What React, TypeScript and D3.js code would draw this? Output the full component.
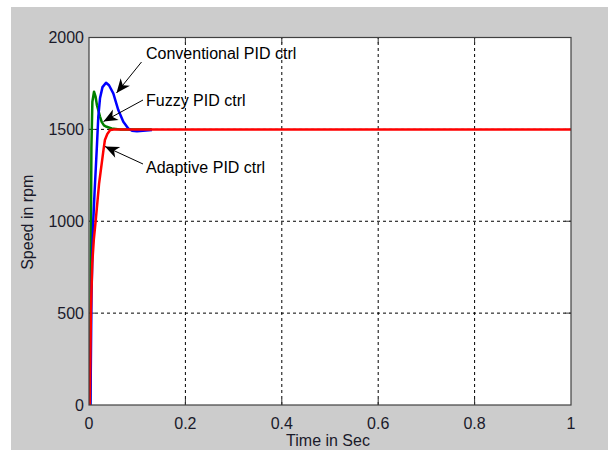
import React from "react";
import * as d3 from "d3";

const xTicks = [0, 0.2, 0.4, 0.6, 0.8, 1];
const xTickLabels = ["0", "0.2", "0.4", "0.6", "0.8", "1"];
const yTicks = [0, 500, 1000, 1500, 2000];
const yTickLabels = ["0", "500", "1000", "1500", "2000"];

const fuzzyT = [0.0025, 0.0035, 0.005, 0.007, 0.0104, 0.0135, 0.0166, 0.0193, 0.0228, 0.0263, 0.031, 0.0367, 0.047, 0.064, 0.13];
const fuzzyV = [0, 700, 1400, 1650, 1705, 1680, 1630, 1605, 1570, 1541, 1522, 1514, 1505, 1500, 1500];

const convT = [0.003, 0.0052, 0.0073, 0.0089, 0.0114, 0.0141, 0.0166, 0.0193, 0.0228, 0.028, 0.0353, 0.0415, 0.0504, 0.0608, 0.0712, 0.0815, 0.0892, 0.0996, 0.112, 0.1307];
const convV = [0, 600, 850, 1006, 1150, 1290, 1420, 1569, 1669, 1730, 1754, 1740, 1696, 1605, 1541, 1505, 1493, 1490, 1492, 1496];

const adaptT = [0.0015, 0.002, 0.0027, 0.004, 0.0068, 0.01, 0.014, 0.021, 0.03, 0.033, 0.038, 0.044, 0.055, 1.0];
const adaptV = [0, 100, 228, 517, 772, 900, 1006, 1207, 1387, 1442, 1475, 1496, 1500, 1500];

const annotations = [
  { label: "Conventional PID ctrl", tx: 146, ty: 53, fromX: 141.5, fromY: 62, toX: 116.5, toY: 93 },
  { label: "Fuzzy PID ctrl", tx: 146, ty: 100, fromX: 143, fromY: 100, toX: 103.5, toY: 121.5 },
  { label: "Adaptive PID ctrl", tx: 146, ty: 167, fromX: 143, fromY: 164, toX: 105, toY: 146.5 },
];

const W = 608, H = 450;
const L = 89, R = 571, T = 37.5, B = 405;
const FONT = "'Liberation Sans', Arial, sans-serif";

function arrowHead(fx: number, fy: number, tx: number, ty: number) {
  const ang = Math.atan2(ty - fy, tx - fx);
  const len = 14, half = 6, notch = 4;
  const ux = Math.cos(ang), uy = Math.sin(ang);
  const px = -uy, py = ux;
  const bx = tx - ux * len, by = ty - uy * len;
  const nx = tx - ux * (len - notch), ny = ty - uy * (len - notch);
  return `M${tx},${ty}L${bx + px * half},${by + py * half}L${nx},${ny}L${bx - px * half},${by - py * half}Z`;
}

export default function App() {
  const x = d3.scaleLinear().domain([0, 1]).range([L, R]);
  const y = d3.scaleLinear().domain([0, 2000]).range([B, T]);
  const line = d3.line<[number, number]>().x((d) => x(d[0])).y((d) => y(d[1]));
  const series = [
    { t: fuzzyT, v: fuzzyV, color: "#008000" },
    { t: convT, v: convV, color: "#0000ff" },
    { t: adaptT, v: adaptV, color: "#ff0000" },
  ];
  const tickLen = 6;
  return (
    <svg width={W} height={H} style={{ position: "absolute", left: 0, top: 0 }} fontFamily={FONT}>
      <rect x={0} y={0} width={W} height={H} fill="#ffffff" />
      <rect x={11} y={7} width={W - 11} height={H - 7} fill="#cccccc" />
      <rect x={L} y={T} width={R - L} height={B - T} fill="#ffffff" />
      <defs>
        <clipPath id="plotclip">
          <rect x={L} y={T} width={R - L} height={B - T} />
        </clipPath>
      </defs>
      {xTicks.slice(1, -1).map((t) => (
        <g key={"gx" + t}>
          <line x1={x(t)} x2={x(t)} y1={B} y2={T} stroke="#000" strokeWidth={1} strokeDasharray="3,3" />
          <line x1={x(t)} x2={x(t)} y1={B} y2={B - tickLen} stroke="#333" strokeWidth={1} />
          <line x1={x(t)} x2={x(t)} y1={T} y2={T + tickLen} stroke="#333" strokeWidth={1} />
        </g>
      ))}
      {yTicks.slice(1, -1).map((v) => (
        <g key={"gy" + v}>
          <line x1={L} x2={R} y1={y(v)} y2={y(v)} stroke="#000" strokeWidth={1} strokeDasharray="3,3" />
          <line x1={L} x2={L + tickLen} y1={y(v)} y2={y(v)} stroke="#333" strokeWidth={1} />
          <line x1={R} x2={R - tickLen} y1={y(v)} y2={y(v)} stroke="#333" strokeWidth={1} />
        </g>
      ))}
      <g clipPath="url(#plotclip)">
        {series.map((s, i) => (
          <path
            key={i}
            d={line(s.t.map((t, j) => [t, s.v[j]] as [number, number])) || ""}
            fill="none"
            stroke={s.color}
            strokeWidth={2.5}
            strokeLinejoin="round"
          />
        ))}
      </g>
      <rect x={L} y={T} width={R - L} height={B - T} fill="none" stroke="#404040" strokeWidth={1.2} />
      {xTicks.map((t, i) => (
        <text key={"xl" + t} x={x(t)} y={429} textAnchor="middle" fontSize={16} fill="#1a1a2a">
          {xTickLabels[i]}
        </text>
      ))}
      {yTicks.map((v, i) => (
        <text key={"yl" + v} x={84} y={y(v) + 5.5} textAnchor="end" fontSize={16} fill="#1a1a2a">
          {yTickLabels[i]}
        </text>
      ))}
      <text x={(L + R) / 2 - 2} y={446} textAnchor="middle" fontSize={16} fill="#1a1a2a">
        Time in Sec
      </text>
      <text
        transform={`translate(33,${(T + B) / 2 + 1}) rotate(-90)`}
        textAnchor="middle"
        fontSize={16}
        fill="#1a1a2a"
      >
        Speed in rpm
      </text>
      {annotations.map((a) => (
        <g key={a.label}>
          <line x1={a.fromX} y1={a.fromY} x2={a.toX} y2={a.toY} stroke="#000" strokeWidth={1} />
          <path d={arrowHead(a.fromX, a.fromY, a.toX, a.toY)} fill="#000" />
          <text x={a.tx} y={a.ty + 5.5} fontSize={16} fill="#000">
            {a.label}
          </text>
        </g>
      ))}
    </svg>
  );
}
